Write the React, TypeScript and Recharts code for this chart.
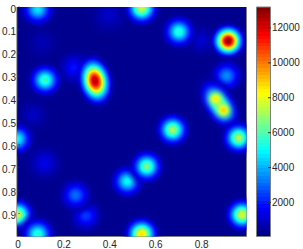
import { Bar, BarChart, CartesianGrid, Scatter, ScatterChart, XAxis, YAxis } from "recharts";

// kernel centres (x, y in axis units, peak in colorbar units)
const blobX = [0.4, 0.11, 0.07, 0.12, 0.25, 0.8, 0.3, 0.255, 0.09, 0.122, 0.34, 0.543, 0.705, 0.92, 0.913, 0.882, 0.865, 0.9, 0.678, 0.965, 0.48, 0.565, 0.0, 0.003, 0.98, 0.09, 0.543];
const blobY = [0.035, 0.157, 0.47, 0.68, 0.265, 0.145, 0.91, 0.82, 0.01, 0.318, 0.322, 0.005, 0.108, 0.148, 0.3, 0.425, 0.4, 0.45, 0.535, 0.57, 0.76, 0.695, 0.575, 0.905, 0.905, 0.99, 0.99];
const blobPeak = [1000, 750, 900, 1400, 1900, 1100, 2400, 3100, 4700, 5800, 12600, 7500, 5500, 13100, 3500, 6800, 8500, 8800, 7100, 7200, 5000, 6500, 5000, 7500, 7800, 5500, 8700];
const blobFloor = [300, 300, 300, 300, 300, 300, 300, 300, 300, 300, 300, 300, 300, 300, 300, 300, 6400, 6400, 300, 300, 300, 300, 300, 300, 300, 300, 300];
// gradient value below which a blob starts to go see-through
const blobFade = [0.14, 0.14, 0.14, 0.14, 0.14, 0.14, 0.14, 0.14, 0.14, 0.14, 0.14, 0.14, 0.14, 0.14, 0.14, 0.14, 1, 1, 0.14, 0.14, 0.14, 0.14, 0.14, 0.14, 0.14, 0.14, 0.14];
// spread along / across the tilt direction, tilt in degrees
const blobLong = [0.036, 0.03, 0.03, 0.034, 0.033, 0.03, 0.032, 0.032, 0.033, 0.032, 0.047, 0.033, 0.032, 0.032, 0.032, 0.054, 0.022, 0.022, 0.032, 0.032, 0.032, 0.032, 0.032, 0.032, 0.032, 0.033, 0.033];
const blobShort = [0.036, 0.03, 0.03, 0.034, 0.033, 0.03, 0.032, 0.032, 0.033, 0.032, 0.032, 0.033, 0.032, 0.032, 0.032, 0.03, 0.022, 0.022, 0.032, 0.032, 0.032, 0.032, 0.032, 0.032, 0.032, 0.033, 0.033];
const blobTilt = [0, 0, 0, 0, 0, 0, 0, 0, 0, 0, 78, 0, 0, 0, 0, 57, 0, 0, 0, 0, 0, 0, 0, 0, 0, 0, 0];

const xTicks = [0, 0.2, 0.4, 0.6, 0.8];
const yTicks = [0, 0.1, 0.2, 0.3, 0.4, 0.5, 0.6, 0.7, 0.8, 0.9];
const colorTicks = [2000, 4000, 6000, 8000, 10000, 12000];
const colorRange = [50, 13200];

const blobs = blobX.map((x, i) => ({
  x,
  y: blobY[i],
  peak: blobPeak[i],
  floor: blobFloor[i],
  fade: blobFade[i],
  long: blobLong[i],
  short: blobShort[i],
  tilt: blobTilt[i],
  id: i,
}));

const PLOT_W = 230;
const FONT = "'Liberation Sans', Arial, sans-serif";
const TEXT = "#262626";
const EDGE = "#808080";

function clamp(v: number) {
  return Math.max(0, Math.min(1, v));
}

// MATLAB jet
function jet(value: number) {
  const t = clamp((value - colorRange[0]) / (colorRange[1] - colorRange[0]));
  const r = clamp(1.5 - Math.abs(4 * t - 3));
  const g = clamp(1.5 - Math.abs(4 * t - 2));
  const b = clamp(1.5 - Math.abs(4 * t - 1));
  return `rgb(${Math.round(r * 255)},${Math.round(g * 255)},${Math.round(b * 255)})`;
}

function BlobShape(props: any) {
  const { cx, cy, payload } = props;
  const rx = payload.long * 3 * PLOT_W;
  const ry = payload.short * 3 * PLOT_W;
  const stops = [];
  for (let k = 0; k <= 16; k++) {
    const o = k / 16;
    const g = Math.exp(-(3 * o) * (3 * o) / 2);
    const val = payload.floor + (payload.peak - payload.floor) * g;
    stops.push(
      <stop key={k} offset={o} stopColor={jet(val)} stopOpacity={clamp(g / payload.fade) * (k === 16 ? 0 : 1)} />
    );
  }
  const id = `blob-${payload.id}`;
  return (
    <g transform={`translate(${cx} ${cy}) rotate(${payload.tilt})`}>
      <defs>
        <radialGradient id={id}>{stops}</radialGradient>
      </defs>
      <ellipse rx={rx} ry={ry} fill={`url(#${id})`} />
    </g>
  );
}

function BottomTick(props: any) {
  const { x, payload } = props;
  return (
    <text x={x + 1} y={248} textAnchor="middle" fontSize={10} fontFamily={FONT} fill={TEXT}>
      {payload.value}
    </text>
  );
}

function LeftTick(props: any) {
  const { x, y, payload } = props;
  return (
    <g>
      <line x1={x + 1} x2={x + 3} y1={y} y2={y} stroke="#333" strokeOpacity={0.5} />
      <text x={x - 1} y={y + 5.5} textAnchor="end" fontSize={10} fontFamily={FONT} fill={TEXT}>
        {payload.value}
      </text>
    </g>
  );
}

function RightTick(props: any) {
  const { x, y } = props;
  return <line x1={x - 3} x2={x} y1={y} y2={y} stroke="#333" strokeOpacity={0.5} />;
}

function ColorTick(props: any) {
  const { x, y, payload } = props;
  return (
    <g>
      <line x1={x - 2} x2={x + 1} y1={y} y2={y} stroke="#333" />
      <text x={x + 2} y={y + 3.5} textAnchor="start" fontSize={10} fontFamily={FONT} fill={TEXT}>
        {payload.value}
      </text>
    </g>
  );
}

function colorbarStops() {
  const stops = [];
  const levels = 64;
  for (let i = 0; i < levels; i++) {
    const v = colorRange[1] - ((i + 0.5) / levels) * (colorRange[1] - colorRange[0]);
    stops.push(<stop key={`${i}a`} offset={i / levels} stopColor={jet(v)} />);
    stops.push(<stop key={`${i}b`} offset={(i + 1) / levels} stopColor={jet(v)} />);
  }
  return stops;
}

export default function App() {
  return (
    <div style={{ position: "fixed", left: 0, top: 0, width: 303, height: 249, background: "#fff" }}>
      <div style={{ position: "absolute", left: 0, top: 0 }}>
        <ScatterChart width={250} height={249} margin={{ top: 7, right: 3, bottom: 0, left: 0 }}>
          <CartesianGrid horizontal={false} vertical={false} fill="#00008f" />
          <XAxis
            type="number"
            dataKey="x"
            domain={[0, 1]}
            ticks={xTicks}
            height={12.5}
            allowDataOverflow
            stroke={EDGE}
            tickLine={false}
            tickSize={0}
            tickMargin={0}
            interval={0}
            tick={<BottomTick />}
          />
          <YAxis
            type="number"
            dataKey="y"
            domain={[0, 1]}
            reversed
            ticks={yTicks}
            width={17}
            allowDataOverflow
            stroke="#555"
            tickLine={false}
            tickSize={0}
            tickMargin={0}
            interval={0}
            tick={<LeftTick />}
          />
          <YAxis
            yAxisId="right"
            orientation="right"
            type="number"
            domain={[0, 1]}
            reversed
            ticks={yTicks}
            width={0.5}
            stroke={EDGE}
            tickLine={false}
            tickSize={0}
            tickMargin={0}
            interval={0}
            tick={<RightTick />}
          />
          <Scatter data={blobs} isAnimationActive={false} shape={<BlobShape />} />
        </ScatterChart>
      </div>
      <div style={{ position: "absolute", left: 250, top: 0 }}>
        <BarChart
          width={53}
          height={249}
          data={[{ name: "scale", span: colorRange }]}
          margin={{ top: 7, right: 0, bottom: 12.5, left: 6.5 }}
          barCategoryGap={0}
        >
          <defs>
            <linearGradient id="jetBar" x1="0" y1="0" x2="0" y2="1">
              {colorbarStops()}
            </linearGradient>
          </defs>
          <XAxis dataKey="name" hide />
          <YAxis
            orientation="right"
            type="number"
            domain={colorRange}
            ticks={colorTicks}
            width={33}
            axisLine={false}
            tickLine={false}
            tickSize={0}
            tickMargin={0}
            interval={0}
            tick={<ColorTick />}
          />
          <Bar dataKey="span" fill="url(#jetBar)" stroke={EDGE} isAnimationActive={false} />
        </BarChart>
      </div>
    </div>
  );
}
